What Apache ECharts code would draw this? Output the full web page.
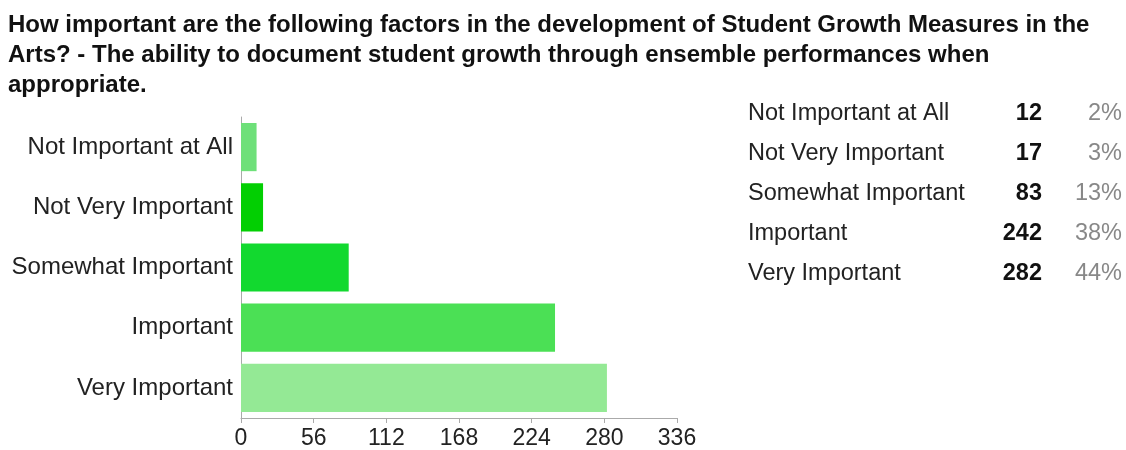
<!DOCTYPE html>
<html>
<head>
<meta charset="utf-8">
<script src="https://cdn.jsdelivr.net/npm/echarts@6/dist/echarts.min.js"></script>
<style>
  html, body { margin: 0; padding: 0; background: #fff; }
  #main { width: 1126px; height: 450px; }
</style>
</head>
<body>
<div id="main"></div>
<script>
var categories = ['Not Important at All', 'Not Very Important', 'Somewhat Important', 'Important', 'Very Important']
var counts = [12, 17, 83, 242, 282]
var percents = ['2%', '3%', '13%', '38%', '44%']
var barColors = ['#6ee079', '#02cf02', '#12d92f', '#4be055', '#94e995']
var xTicks = { min: 0, max: 336, interval: 56 }

var font = '"Liberation Sans", Arial, sans-serif'

// table on the right, one row per category
var table = []
categories.forEach(function (c, i) {
  var y = 114 + i * 40
  table.push({ type: 'text', x: 748, y: y, style: { text: c, font: '23.5px ' + font, fill: '#222', verticalAlign: 'middle' } })
  table.push({ type: 'text', x: 1042, y: y, style: { text: String(counts[i]), font: 'bold 23.5px ' + font, fill: '#111', align: 'right', verticalAlign: 'middle' } })
  table.push({ type: 'text', x: 1122, y: y, style: { text: percents[i], font: '23.5px ' + font, fill: '#888', align: 'right', verticalAlign: 'middle' } })
})

var myChart = echarts.init(document.getElementById('main'))
myChart.setOption({
  animation: false,
  title: {
    text: 'How important are the following factors in the development of Student Growth Measures in the\nArts? - The ability to document student growth through ensemble performances when\nappropriate.',
    left: 8,
    top: 10,
    padding: 0,
    textStyle: { fontFamily: font, fontWeight: 'bold', fontSize: 24, color: '#111', lineHeight: 30 }
  },
  grid: { left: 241, right: 449, top: 117, bottom: 32 },
  xAxis: {
    type: 'value',
    min: xTicks.min,
    max: xTicks.max,
    interval: xTicks.interval,
    axisLine: { show: true, lineStyle: { color: '#aaa' } },
    axisTick: { show: true, length: 5, lineStyle: { color: '#aaa' } },
    axisLabel: { color: '#222', fontSize: 23, fontFamily: font, margin: 9 },
    splitLine: { show: false }
  },
  yAxis: {
    type: 'category',
    inverse: true,
    data: categories,
    axisLine: { lineStyle: { color: '#aaa' } },
    axisTick: { alignWithLabel: true, length: 5, lineStyle: { color: '#aaa' } },
    axisLabel: { color: '#222', fontSize: 24, fontFamily: font, margin: 8 }
  },
  series: [
    {
      type: 'bar',
      data: counts,
      barCategoryGap: '20%',
      itemStyle: {
        color: function (params) {
          return barColors[params.dataIndex]
        }
      }
    }
  ],
  graphic: table
})
</script>
</body>
</html>
